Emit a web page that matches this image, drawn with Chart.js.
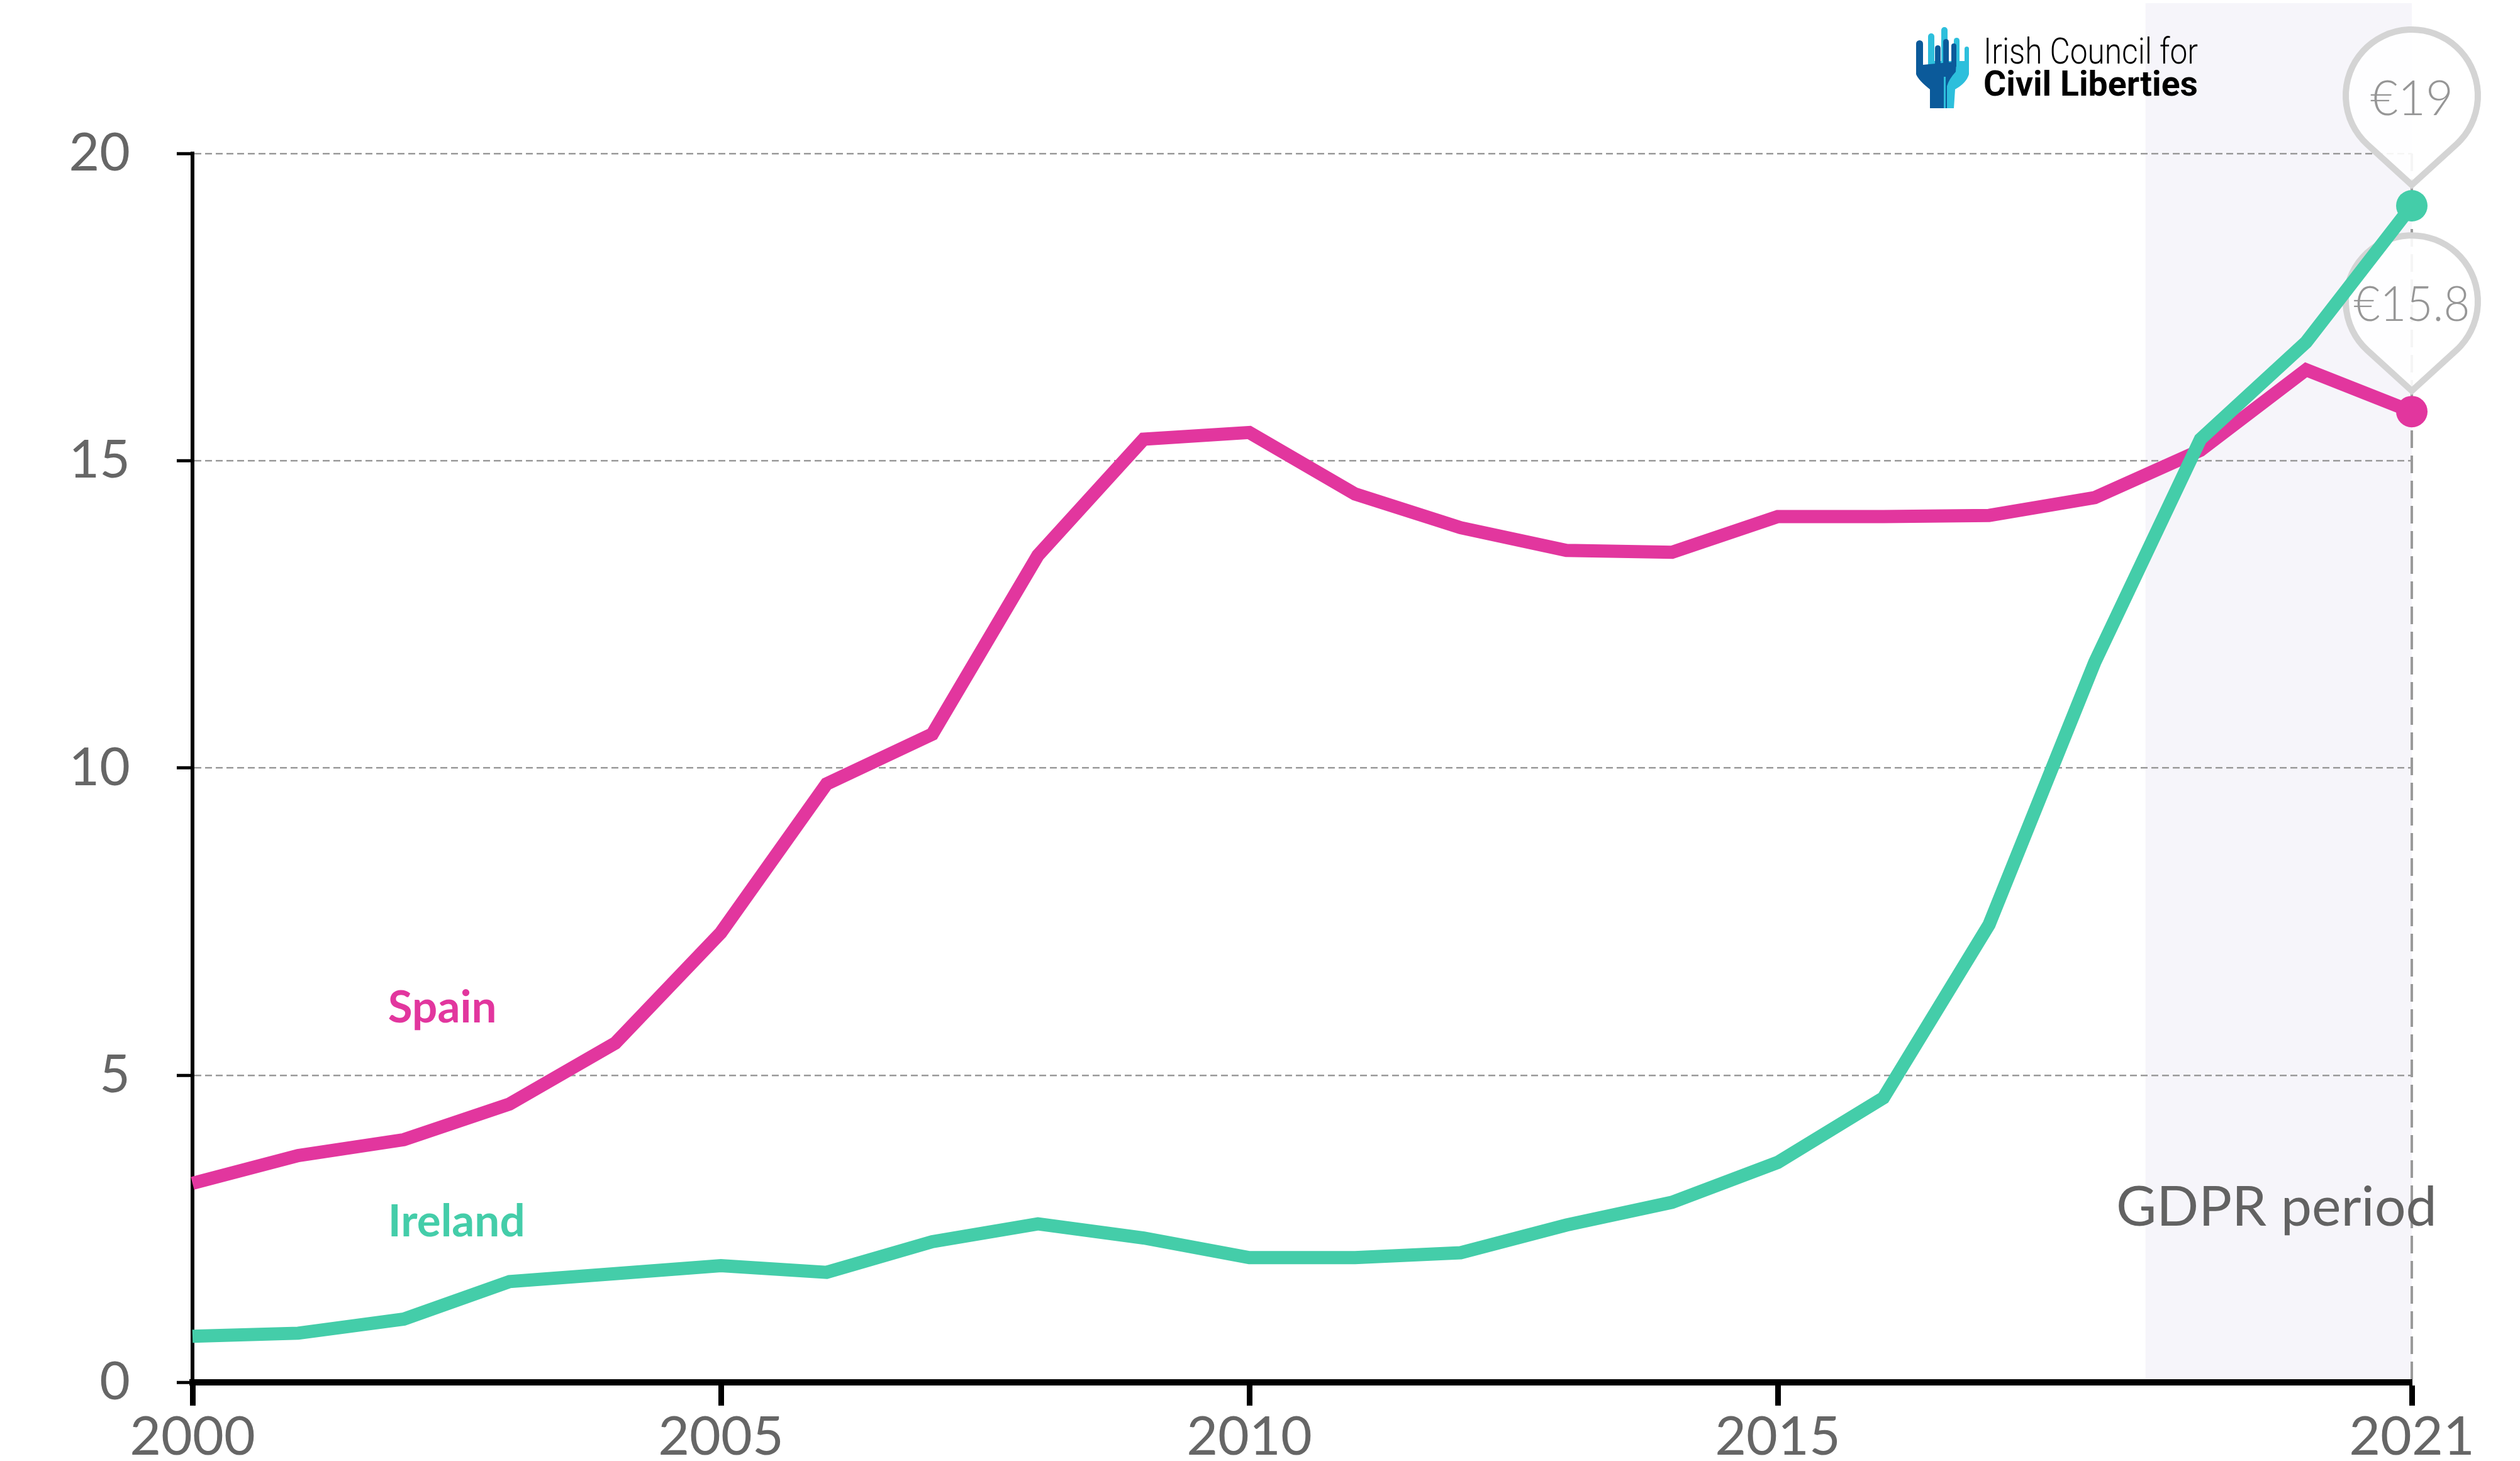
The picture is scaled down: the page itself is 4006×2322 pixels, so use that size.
<!DOCTYPE html>
<html>
<head>
<meta charset="utf-8">
<script src="https://cdn.jsdelivr.net/npm/chart.js@4.4.0/dist/chart.umd.min.js"></script>
<style>
    html, body { margin: 0; padding: 0; background: #fff; }
    #wrap { width: 4006px; height: 2322px; position: relative; }
</style>
</head>
<body>
<div id="wrap"><canvas id="chart"></canvas></div>
<script>
const years = [2000, 2001, 2002, 2003, 2004, 2005, 2006, 2007, 2008, 2009, 2010,
               2011, 2012, 2013, 2014, 2015, 2016, 2017, 2018, 2019, 2020, 2021];
const spain = [3.24, 3.69, 3.95, 4.53, 5.52, 7.32, 9.74, 10.55, 13.46, 15.35, 15.46,
               14.46, 13.91, 13.54, 13.51, 14.09, 14.09, 14.11, 14.40, 15.17, 16.48, 15.8];
const ireland = [0.75, 0.80, 1.03, 1.64, 1.77, 1.90, 1.79, 2.29, 2.58, 2.35, 2.03,
                 2.03, 2.11, 2.56, 2.93, 3.58, 4.63, 7.45, 11.72, 15.35, 16.93, 19.15];
const xTicks = [2000, 2005, 2010, 2015, 2021];
const gdprStart = 2018.48;
const endLabels = { ireland: '€19', spain: '€15.8' };

const pink = '#e2369e';
const green = '#44cda9';

const toPoints = vals => vals.map((v, i) => ({ x: years[i], y: v }));
const lastIdx = years.length - 1;

// shaded GDPR band + dashed end line + value pins, under the lines
const backdrop = {
    id: 'backdrop',
    beforeDraw(chart) {
        const { ctx, chartArea, scales: { x } } = chart;
        const x0 = x.getPixelForValue(gdprStart);
        const x1 = x.getPixelForValue(2021);
        ctx.save();
        ctx.fillStyle = '#f6f5fa';
        ctx.fillRect(x0, 5, x1 - x0, chartArea.bottom - 5);
        ctx.restore();
    },
    beforeDatasetsDraw(chart) {
        const { ctx, chartArea, scales: { x, y } } = chart;
        const xe = x.getPixelForValue(2021);
        ctx.save();
        ctx.strokeStyle = '#9a9a9a';
        ctx.lineWidth = 4;
        ctx.setLineDash([28, 12]);
        ctx.beginPath();
        ctx.moveTo(xe, chartArea.top);
        ctx.lineTo(xe, chartArea.bottom);
        ctx.stroke();
        ctx.setLineDash([]);

        const pins = [
            [ireland[lastIdx], endLabels.ireland],
            [spain[lastIdx], endLabels.spain]
        ];
        pins.forEach(([val, txt]) => {
            const py = y.getPixelForValue(val);
            const cy = py - 175, tip = py - 33, r = 105;
            const phi = Math.acos(r / (tip - cy));
            const t1 = Math.PI / 2 + phi, t2 = Math.PI / 2 - phi + Math.PI * 2;
            ctx.beginPath();
            ctx.moveTo(xe, tip);
            ctx.lineTo(xe + r * Math.cos(t1), cy + r * Math.sin(t1));
            ctx.arc(xe, cy, r, t1, t2, false);
            ctx.closePath();
            ctx.fillStyle = 'rgba(255,255,255,0.9)';
            ctx.fill();
            ctx.lineWidth = 10;
            ctx.lineJoin = 'miter';
            ctx.strokeStyle = '#d4d4d4';
            ctx.stroke();

            ctx.fillStyle = '#969696';
            ctx.font = '300 76px Lato';
            ctx.textAlign = 'center';
            ctx.textBaseline = 'middle';
            const w = ctx.measureText(txt).width;
            const sx = Math.min(1, 185 / w);
            ctx.save();
            ctx.translate(xe, cy + 6);
            ctx.scale(sx, 1);
            ctx.fillText(txt, 0, 0);
            ctx.restore();
        });
        ctx.restore();
    },
    afterDraw(chart) {
        const { ctx, scales: { x, y } } = chart;
        ctx.save();
        ctx.textBaseline = 'alphabetic';
        ctx.textAlign = 'left';
        ctx.font = 'bold 71px Lato';
        ctx.fillStyle = pink;
        ctx.fillText('Spain', x.getPixelForValue(2001.85), y.getPixelForValue(5.86));
        ctx.fillStyle = green;
        ctx.fillText('Ireland', x.getPixelForValue(2001.85), y.getPixelForValue(2.38));

        ctx.font = '88px Lato';
        ctx.fillStyle = '#626262';
        ctx.textAlign = 'center';
        ctx.fillText('GDPR period', x.getPixelForValue(2019.72), y.getPixelForValue(2.55));

        drawLogo(ctx, 3046, 42);
        ctx.restore();
    }
};

function bar(ctx, x0, y0, x1, y1) {
    const r = (x1 - x0) / 2;
    ctx.beginPath();
    ctx.moveTo(x0, y1);
    ctx.lineTo(x0, y0 + r);
    ctx.arc(x0 + r, y0 + r, r, Math.PI, 0);
    ctx.lineTo(x1, y1);
    ctx.closePath();
    ctx.fill();
}

// small hands icon + name of the Irish Council for Civil Liberties
function drawLogo(ctx, ox, oy) {
    ctx.save();
    ctx.translate(ox, oy);
    ctx.fillStyle = '#2dbfdc';
    bar(ctx, 19, 11, 29, 62);
    bar(ctx, 40, 1, 50, 62);
    bar(ctx, 60, 18, 69, 62);
    bar(ctx, 77, 32, 84, 76);
    ctx.beginPath();
    ctx.moveTo(19, 55); ctx.lineTo(84, 55); ctx.lineTo(84, 76);
    ctx.quadraticCurveTo(80, 90, 62, 100);
    ctx.lineTo(60, 130); ctx.lineTo(49, 130); ctx.lineTo(49, 95);
    ctx.quadraticCurveTo(30, 80, 19, 70);
    ctx.closePath();
    ctx.fill();

    ctx.fillStyle = '#0b5a9a';
    bar(ctx, 0, 22, 11, 72);
    bar(ctx, 30, 30, 39, 64);
    bar(ctx, 43, 20, 52, 64);
    bar(ctx, 56, 27, 64, 64);
    ctx.beginPath();
    ctx.moveTo(0, 62); ctx.lineTo(64, 56); ctx.lineTo(63, 72);
    ctx.quadraticCurveTo(52, 84, 49, 95);
    ctx.lineTo(49, 130); ctx.lineTo(22, 130); ctx.lineTo(22, 100);
    ctx.quadraticCurveTo(4, 86, 0, 76);
    ctx.closePath();
    ctx.fill();
    ctx.fillStyle = '#2dbfdc';
    ctx.fillRect(44, 80, 3, 50);

    ctx.fillStyle = '#000';
    ctx.textAlign = 'left';
    ctx.textBaseline = 'alphabetic';
    const lines = [['300 58px Roboto', 'Irish Council for', 59], ['bold 56px Roboto', 'Civil Liberties', 110]];
    lines.forEach(([font, txt, base]) => {
        ctx.font = font;
        const sx = 341 / ctx.measureText(txt).width;
        ctx.save();
        ctx.translate(107, base);
        ctx.scale(sx, 1);
        ctx.fillText(txt, 0, 0);
        ctx.restore();
    });
    ctx.restore();
}

const dotRadius = c => (c.dataIndex === lastIdx ? 25 : 0);

new Chart(document.getElementById('chart'), {
    type: 'line',
    data: {
        datasets: [
            {
                label: 'Ireland',
                data: toPoints(ireland),
                borderColor: green,
                backgroundColor: green,
                pointBackgroundColor: green,
                borderWidth: 21,
                borderJoinStyle: 'miter',
                tension: 0,
                pointRadius: dotRadius,
                pointHoverRadius: dotRadius,
                pointBorderWidth: 0,
                clip: false
            },
            {
                label: 'Spain',
                data: toPoints(spain),
                borderColor: pink,
                backgroundColor: pink,
                pointBackgroundColor: pink,
                borderWidth: 21,
                borderJoinStyle: 'miter',
                tension: 0,
                pointRadius: dotRadius,
                pointHoverRadius: dotRadius,
                pointBorderWidth: 0,
                clip: false
            }
        ]
    },
    options: {
        responsive: true,
        maintainAspectRatio: false,
        devicePixelRatio: 1,
        animation: false,
        layout: { padding: { top: 244, right: 172, bottom: 0, left: 0 } },
        plugins: {
            legend: { display: false },
            tooltip: { enabled: false }
        },
        scales: {
            x: {
                type: 'linear',
                min: 2000,
                max: 2021,
                afterBuildTicks: s => { s.ticks = xTicks.map(v => ({ value: v })); },
                afterFit: s => { s.height = 125; },
                ticks: {
                    callback: v => String(v),
                    color: '#666',
                    font: { family: 'Lato', size: 86, weight: 400, lineHeight: 1 },
                    padding: 7,
                    maxRotation: 0
                },
                grid: {
                    drawOnChartArea: false,
                    tickLength: 37,
                    tickWidth: 9,
                    tickColor: '#000'
                },
                border: { display: true, color: '#000', width: 10 }
            },
            y: {
                min: 0,
                max: 20,
                afterFit: s => { s.width = 306; },
                ticks: {
                    stepSize: 5,
                    color: '#666',
                    font: { family: 'Lato', size: 84, weight: 400 },
                    padding: 74
                },
                grid: {
                    color: '#9a9a9a',
                    lineWidth: 2.5,
                    tickLength: 25,
                    tickWidth: 5,
                    tickColor: '#000'
                },
                border: { display: true, color: '#000', width: 6, dash: [11, 6] }
            }
        }
    },
    plugins: [backdrop]
});
</script>
</body>
</html>
